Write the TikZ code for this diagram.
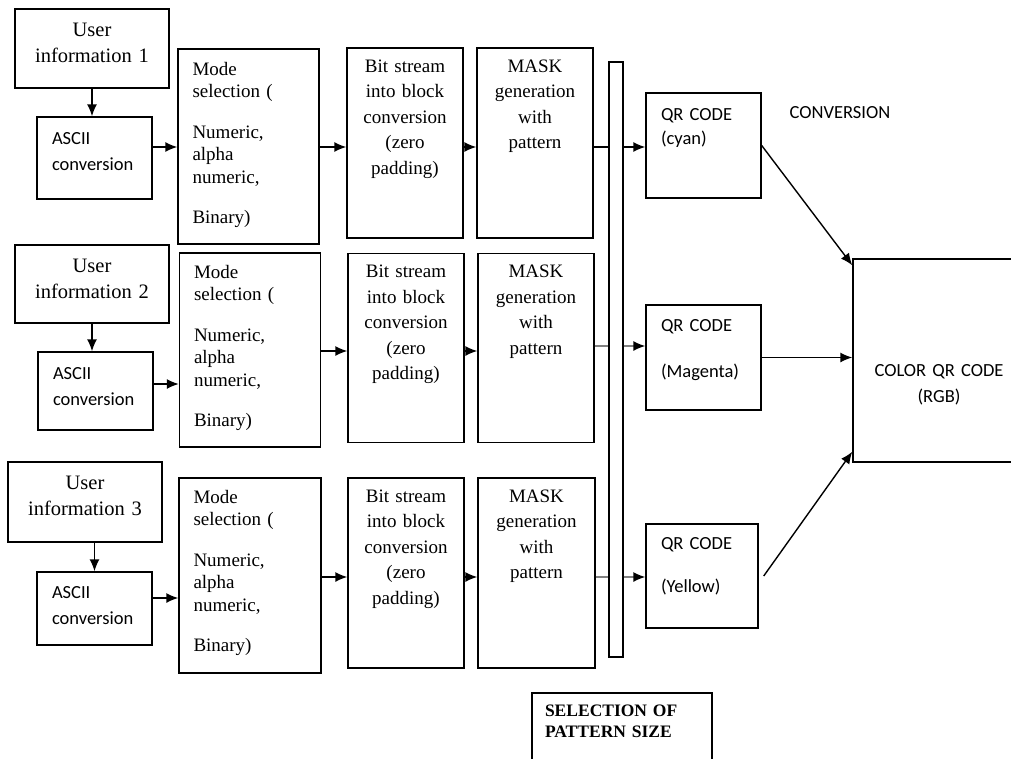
\documentclass[tikz,border=0pt]{standalone}
\usepackage{fontspec}
\setmainfont{Liberation Serif}
\newfontfamily\calibri{Carlito}[WordSpace=0.7]
\usetikzlibrary{arrows.meta}

\begin{document}
\begin{tikzpicture}[x=1pt, y=-1pt, line width=1.4pt,
    >={Latex[length=12pt, width=10pt]},
    blk/.style={draw, inner sep=0pt},
    usertxt/.style={anchor=base, inner sep=0pt, text width=150pt, align=center,
      font=\fontsize{20.5}{26}\selectfont},
    asciitxt/.style={anchor=base west, inner sep=0pt, text width=100pt, align=left,
      font=\calibri\fontsize{18.5}{26}\selectfont},
    modetxt/.style={anchor=base west, inner sep=0pt, text width=122pt, align=left,
      font=\fontsize{19}{22.5}\selectfont},
    bittxt/.style={anchor=base, inner sep=0pt, text width=112pt, align=center,
      font=\fontsize{19}{25.5}\selectfont},
    qrtxt/.style={anchor=base west, inner sep=0pt, text width=100pt, align=left,
      font=\calibri\fontsize{18.5}{24}\selectfont},
    feed/.style={draw=black!50},
    feedarrow/.style={draw=black!50, -{Latex[length=12pt, width=10pt, color=black]}}]
    \useasboundingbox (0,0) rectangle (1011,758);

    % row heights of the connectors
    \coordinate (row1) at (0,147);
    \coordinate (row2) at (0,351);
    \coordinate (row2b) at (0,346);
    \coordinate (row3) at (0,577);
    \coordinate (in2) at (0,384);
    \coordinate (in3) at (0,598);

    % Row 1
    \node[blk, minimum width=154, minimum height=79] (user1) at (92,48.5) {};
    \node[usertxt] (user1t) at ([yshift=-28]user1.north) {User\\information 1};
    \node[blk, minimum width=115, minimum height=82] (ascii1) at (94.5,158) {};
    \node[asciitxt] (ascii1t) at ([xshift=15, yshift=-28]ascii1.north west) {ASCII\\conversion};
    \node[blk, minimum width=141, minimum height=195] (mode1) at (248.5,146.5) {};
    \node[modetxt] (mode1t) at ([xshift=14.5, yshift=-27]mode1.north west)
        {Mode\\selection (\\[18pt]Numeric,\\alpha\\numeric,\\[17.5pt]Binary)};
    \node[blk, minimum width=116, minimum height=190] (bit1) at (405,143) {};
    \node[bittxt] (bit1t) at ([yshift=-25]bit1.north) {Bit stream\\into block\\conversion\\(zero\\padding)};
    \node[blk, minimum width=116, minimum height=190] (mask1) at (535,143) {};
    \node[bittxt] (mask1t) at ([yshift=-25]mask1.north) {MASK\\generation\\with\\pattern};

    % Row 2
    \node[blk, minimum width=154, minimum height=78] (user2) at (92,284) {};
    \node[usertxt] (user2t) at ([yshift=-28]user2.north) {User\\information 2};
    \node[blk, minimum width=115, minimum height=78] (ascii2) at (95.5,391) {};
    \node[asciitxt] (ascii2t) at ([xshift=15, yshift=-28]ascii2.north west) {ASCII\\conversion};
    \node[blk, minimum width=141, minimum height=194] (mode2) at (250,350) {};
    \node[modetxt] (mode2t) at ([xshift=14.5, yshift=-26]mode2.north west)
        {Mode\\selection (\\[18pt]Numeric,\\alpha\\numeric,\\[17.5pt]Binary)};
    \node[blk, minimum width=116, minimum height=189] (bit2) at (406,348) {};
    \node[bittxt] (bit2t) at ([yshift=-25]bit2.north) {Bit stream\\into block\\conversion\\(zero\\padding)};
    \node[blk, minimum width=116, minimum height=189] (mask2) at (536,348) {};
    \node[bittxt] (mask2t) at ([yshift=-25]mask2.north) {MASK\\generation\\with\\pattern};

    % Row 3
    \node[blk, minimum width=154, minimum height=80] (user3) at (85,502) {};
    \node[usertxt] (user3t) at ([yshift=-28]user3.north) {User\\information 3};
    \node[blk, minimum width=115, minimum height=73] (ascii3) at (94.5,608.5) {};
    \node[asciitxt] (ascii3t) at ([xshift=15, yshift=-27]ascii3.north west) {ASCII\\conversion};
    \node[blk, minimum width=142, minimum height=195] (mode3) at (250,575.5) {};
    \node[modetxt] (mode3t) at ([xshift=14.5, yshift=-26]mode3.north west)
        {Mode\\selection (\\[18pt]Numeric,\\alpha\\numeric,\\[17.5pt]Binary)};
    \node[blk, minimum width=116, minimum height=190] (bit3) at (406,573) {};
    \node[bittxt] (bit3t) at ([yshift=-25]bit3.north) {Bit stream\\into block\\conversion\\(zero\\padding)};
    \node[blk, minimum width=117, minimum height=190] (mask3) at (536.5,573) {};
    \node[bittxt] (mask3t) at ([yshift=-25]mask3.north) {MASK\\generation\\with\\pattern};

    % bar, QR codes, result
    \node[blk, minimum width=14, minimum height=595] (bar) at (616,359.5) {};
    \node[blk, minimum width=115, minimum height=105] (qr1) at (703.5,145.5) {};
    \node[qrtxt] (qr1t) at ([xshift=15, yshift=-28]qr1.north west) {QR CODE\\(cyan)};
    \node[blk, minimum width=115, minimum height=105] (qr2) at (703.5,357.5) {};
    \node[qrtxt] (qr2t) at ([xshift=15, yshift=-27]qr2.north west) {QR CODE\\[22pt](Magenta)};
    \node[blk, minimum width=112, minimum height=104] (qr3) at (702,576) {};
    \node[qrtxt] (qr3t) at ([xshift=15, yshift=-26]qr3.north west) {QR CODE\\[19pt](Yellow)};
    \node[anchor=base, inner sep=0pt, font=\calibri\fontsize{18.5}{26}\selectfont] (conv) at (840,118) {CONVERSION};
    \node[blk, minimum width=172, minimum height=203] (color) at (939,360.5) {};
    \node[anchor=base, inner sep=0pt, text width=170pt, align=center,
        font=\calibri\fontsize{18.5}{26}\selectfont] (colort) at ([yshift=-118]color.north) {COLOR QR CODE\\(RGB)};
    \node[blk, minimum width=180, minimum height=96] (sel) at (622,741) {};
    \node[anchor=base west, inner sep=0pt, text width=168pt, align=left,
        font=\bfseries\fontsize{17.5}{21}\selectfont] (selt) at ([xshift=13, yshift=-24]sel.north west) {SELECTION OF\\PATTERN SIZE};

    % connectors row 1
    \draw[->] (user1.south) -- (user1.south |- ascii1.north);
    \draw[->] (ascii1.east |- row1) -- (mode1.west |- row1);
    \draw[->] (mode1.east |- row1) -- (bit1.west |- row1);
    \draw[->] (bit1.east |- row1) -- (mask1.west |- row1);
    \draw (mask1.east |- row1) -- (bar.west |- row1);
    \draw[->] (bar.east |- row1) -- (qr1.west |- row1);

    % connectors row 2
    \draw[->] (user2.south) -- (user2.south |- ascii2.north);
    \draw[->] (ascii2.east |- in2) -- (mode2.west |- in2);
    \draw[->] (mode2.east |- row2) -- (bit2.west |- row2);
    \draw[->] (bit2.east |- row2) -- (mask2.west |- row2);
    \draw[feed] (mask2.east |- row2b) -- (bar.west |- row2b);
    \draw[feedarrow] (bar.east |- row2b) -- (qr2.west |- row2b);

    % connectors row 3
    \draw[->] (ascii3.north |- user3.south) -- (ascii3.north);
    \draw[->] (ascii3.east |- in3) -- (mode3.west |- in3);
    \draw[->] (mode3.east |- row3) -- (bit3.west |- row3);
    \draw[->] (bit3.east |- row3) -- (mask3.west |- row3);
    \draw[feed] (mask3.east |- row3) -- (bar.west |- row3);
    \draw[feedarrow] (bar.east |- row3) -- (qr3.west |- row3);

    % QR codes into the colour code
    \draw[->] (qr1.east) -- ([yshift=-7]color.north west);
    \draw[->] (qr2.east) -- (qr2.east -| color.west);
    \draw[->] ([xshift=5]qr3.east) -- ([yshift=11]color.south west);
\end{tikzpicture}
\end{document}
